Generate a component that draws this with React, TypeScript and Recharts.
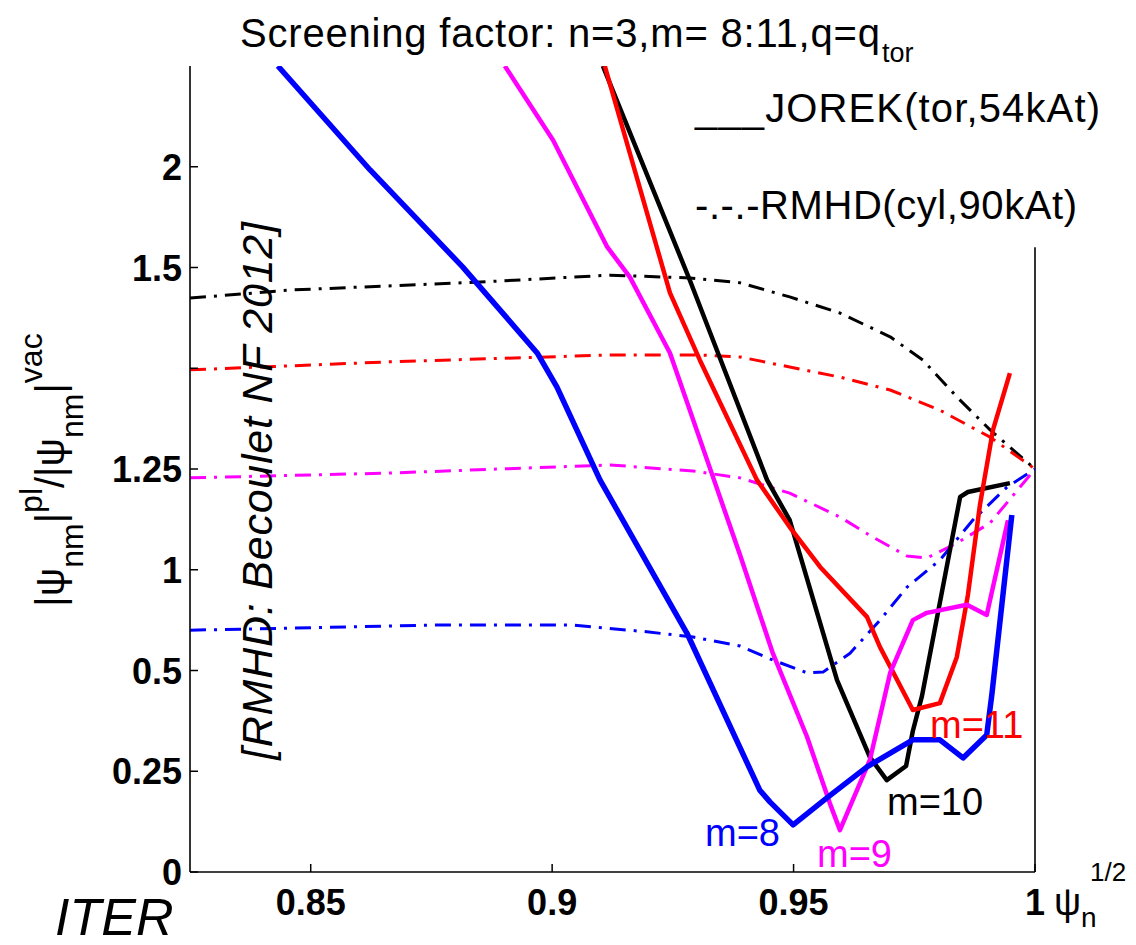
import React from "react";
import { LineChart, Line, XAxis, YAxis, ReferenceLine } from "recharts";

type Pt = [number, number];

// x = sqrt(psi_n), y = screening factor on the plot's own vertical scale
// JOREK (toroidal, 54 kAt) – solid curves
const JOREK_M8: Pt[] = [
  [0.8432, 2.0], [0.8623, 1.742], [0.8815, 1.501], [0.8969, 1.288], [0.901, 1.203],
  [0.9099, 0.973], [0.9279, 0.593], [0.943, 0.203], [0.9451, 0.174], [0.9499, 0.117],
  [0.9569, 0.184], [0.9652, 0.261], [0.9747, 0.328], [0.9803, 0.328], [0.9851, 0.283],
  [0.99, 0.34], [0.9911, 0.444], [0.9952, 0.886],
];
const JOREK_M9: Pt[] = [
  [0.8902, 2.0], [0.9002, 1.816], [0.9114, 1.551], [0.9161, 1.476], [0.9244, 1.288],
  [0.9321, 1.022], [0.9389, 0.787], [0.9457, 0.543], [0.9528, 0.335], [0.9575, 0.171],
  [0.9596, 0.104], [0.9658, 0.278], [0.97, 0.494], [0.9747, 0.625], [0.9776, 0.643],
  [0.9859, 0.663], [0.99, 0.638], [0.9944, 0.873],
];
const JOREK_M10: Pt[] = [
  [0.9105, 2.0], [0.9285, 1.469], [0.9445, 0.973], [0.9492, 0.873], [0.959, 0.476],
  [0.9658, 0.285], [0.9693, 0.228], [0.9733, 0.263], [0.9747, 0.35], [0.9766, 0.437],
  [0.9845, 0.931], [0.9861, 0.943], [0.9948, 0.965],
];
const JOREK_M11: Pt[] = [
  [0.9109, 2.0], [0.9244, 1.437], [0.9306, 1.27], [0.9424, 0.973], [0.9492, 0.856],
  [0.9555, 0.757], [0.9652, 0.633], [0.9679, 0.558], [0.9747, 0.402], [0.9803, 0.419],
  [0.9838, 0.533], [0.9861, 0.687], [0.9886, 0.911], [0.9913, 1.097], [0.9948, 1.238],
];

// RMHD (cylindrical, 90 kAt) – dash-dot curves
const RMHD_M8: Pt[] = [
  [0.825, 0.6], [0.8768, 0.613], [0.9043, 0.613], [0.9114, 0.605], [0.9196, 0.596],
  [0.9292, 0.583], [0.9389, 0.561], [0.9457, 0.526], [0.9528, 0.494], [0.9561, 0.496],
  [0.9617, 0.543], [0.9679, 0.625], [0.9735, 0.707], [0.9803, 0.774], [0.9871, 0.873],
  [0.9942, 0.955], [1.0, 1.0],
];
const RMHD_M9: Pt[] = [
  [0.825, 0.978], [0.8664, 0.99], [0.912, 1.01], [0.9292, 0.995], [0.9389, 0.978],
  [0.9492, 0.94], [0.9596, 0.881], [0.9664, 0.831], [0.9735, 0.784], [0.9776, 0.779],
  [0.9838, 0.816], [0.9907, 0.866], [1.0, 1.0],
];
const RMHD_M10: Pt[] = [
  [0.825, 1.424], [0.8457, 1.444], [0.8851, 1.464], [0.912, 1.481], [0.9285, 1.474],
  [0.9389, 1.462], [0.9492, 1.427], [0.9596, 1.387], [0.97, 1.328], [0.9768, 1.27],
  [0.9838, 1.179], [0.9907, 1.097], [1.0, 1.0],
];
const RMHD_M11: Pt[] = [
  [0.825, 1.246], [0.8664, 1.266], [0.912, 1.283], [0.9306, 1.283], [0.9389, 1.278],
  [0.9492, 1.253], [0.9596, 1.228], [0.97, 1.196], [0.9803, 1.146], [0.9907, 1.079],
  [1.0, 1.0],
];

const X_DOMAIN: [number, number] = [0.825, 1.0];
const Y_DOMAIN: [number, number] = [0, 2];
const X_TICKS = [0.85, 0.9, 0.95, 1.0];
const X_TICK_LABELS = ["0.85", "0.9", "0.95", "1"];
const TOP_TICKS = [0.85, 0.9, 0.95];
const Y_TICKS = [0, 0.25, 0.5, 0.75, 1.0, 1.25, 1.5, 1.75];
const Y_TICK_LABELS = ["0", "0.25", "0.5", "1", "1.25", "", "1.5", "2"];
const RIGHT_TICKS = [0.25, 0.5, 0.75, 1.0, 1.25, 1.5];
const RIGHT_AXIS_TOP = 1.55;

const BLUE = "#0000ff";
const MAGENTA = "#ff00ff";
const RED = "#ff0000";
const BLACK = "#000000";

const FONT = '"Liberation Sans", Arial, Helvetica, sans-serif';
const W = 1120;
const H = 929;
const DASH_DOT = "16 8 3 8";

const toRows = (pts: Pt[]) => pts.map(([x, y]) => ({ x, y }));

const SERIES = [
  { id: "rmhd-10", pts: RMHD_M10, color: BLACK, width: 3, dash: DASH_DOT },
  { id: "rmhd-11", pts: RMHD_M11, color: RED, width: 3, dash: DASH_DOT },
  { id: "rmhd-9", pts: RMHD_M9, color: MAGENTA, width: 3, dash: DASH_DOT },
  { id: "rmhd-8", pts: RMHD_M8, color: BLUE, width: 3, dash: DASH_DOT },
  { id: "jorek-10", pts: JOREK_M10, color: BLACK, width: 4.5, dash: undefined },
  { id: "jorek-11", pts: JOREK_M11, color: RED, width: 4.5, dash: undefined },
  { id: "jorek-9", pts: JOREK_M9, color: MAGENTA, width: 4.5, dash: undefined },
  { id: "jorek-8", pts: JOREK_M8, color: BLUE, width: 5.5, dash: undefined },
];

const AXIS = { stroke: "#000", strokeWidth: 1.6 };
const TICK_LEN = 8;

const BottomTick = (p: any) => {
  const i = X_TICKS.indexOf(p.payload.value);
  return (
    <g>
      <line x1={p.x} y1={p.y} x2={p.x} y2={p.y - TICK_LEN} stroke="#000" strokeWidth={1.5} />
      <text x={p.x} y={p.y + 43} textAnchor="middle" fontSize={36} fontWeight="bold" fill="#000" fontFamily={FONT}>
        {X_TICK_LABELS[i]}
      </text>
    </g>
  );
};

const TopTick = (p: any) => (
  <line x1={p.x} y1={p.y} x2={p.x} y2={p.y + TICK_LEN} stroke="#000" strokeWidth={1.5} />
);

const LeftTick = (p: any) => {
  const i = Y_TICKS.indexOf(p.payload.value);
  return (
    <g>
      <line x1={p.x} y1={p.y} x2={p.x + TICK_LEN} y2={p.y} stroke="#000" strokeWidth={1.5} />
      <text x={p.x - 8} y={p.y + 13} textAnchor="end" fontSize={36} fontWeight="bold" fill="#000" fontFamily={FONT}>
        {Y_TICK_LABELS[i]}
      </text>
    </g>
  );
};

const RightTick = (p: any) => (
  <line x1={p.x} y1={p.y} x2={p.x - TICK_LEN} y2={p.y} stroke="#000" strokeWidth={1.5} />
);

export default function App() {
  return (
    <div style={{ position: "relative", width: W, height: H, fontFamily: FONT }}>
      <LineChart width={W} height={H} margin={{ top: 58, right: 93, bottom: 5, left: 0 }}>
        <XAxis
          xAxisId="bottom"
          type="number"
          dataKey="x"
          domain={X_DOMAIN}
          ticks={X_TICKS}
          interval={0}
          height={60}
          tickSize={0}
          tickMargin={0}
          tick={(p: any) => <BottomTick {...p} />}
          axisLine={AXIS}
          allowDataOverflow
        />
        <XAxis
          xAxisId="top"
          orientation="top"
          type="number"
          dataKey="x"
          domain={X_DOMAIN}
          ticks={TOP_TICKS}
          interval={0}
          height={0}
          tickSize={0}
          tickMargin={0}
          tick={(p: any) => <TopTick {...p} />}
          axisLine={AXIS}
          allowDataOverflow
        />
        <YAxis
          yAxisId="left"
          type="number"
          domain={Y_DOMAIN}
          ticks={Y_TICKS}
          interval={0}
          width={182}
          tickSize={0}
          tickMargin={0}
          tick={(p: any) => <LeftTick {...p} />}
          axisLine={AXIS}
          allowDataOverflow
        />
        <YAxis
          yAxisId="right"
          orientation="right"
          type="number"
          domain={Y_DOMAIN}
          ticks={RIGHT_TICKS}
          interval={0}
          width={0}
          tickSize={0}
          tickMargin={0}
          tick={(p: any) => <RightTick {...p} />}
          axisLine={false}
          allowDataOverflow
        />
        <ReferenceLine
          xAxisId="bottom"
          yAxisId="left"
          segment={[{ x: X_DOMAIN[1], y: 0 }, { x: X_DOMAIN[1], y: RIGHT_AXIS_TOP }]}
          stroke="#000"
          strokeWidth={1.6}
          ifOverflow="visible"
        />
        {SERIES.map((s) => (
          <Line
            key={s.id}
            xAxisId="bottom"
            yAxisId="left"
            data={toRows(s.pts)}
            dataKey="y"
            type="linear"
            stroke={s.color}
            strokeWidth={s.width}
            strokeDasharray={s.dash}
            strokeLinejoin="round"
            dot={false}
            activeDot={false}
            isAnimationActive={false}
          />
        ))}
      </LineChart>

      <svg
        width={W}
        height={H}
        style={{ position: "absolute", left: 0, top: 0, overflow: "visible", pointerEvents: "none" }}
        fontFamily={FONT}
      >
        {/* title */}
        <text x={232} y={39} fontSize={40} textLength={640} lengthAdjust="spacing" fill="#000">
          Screening factor: n=3,m= 8:11,q=q
        </text>
        <text x={874} y={54} fontSize={27} fill="#000">tor</text>

        {/* legend */}
        <text x={687} y={114} fontSize={40} textLength={405} lengthAdjust="spacing" fill="#000">
          ___JOREK(tor,54kAt)
        </text>
        <text x={687} y={211} fontSize={40} textLength={382} lengthAdjust="spacing" fill="#000">
          -.-.-RMHD(cyl,90kAt)
        </text>

        {/* y-axis title */}
        <g transform="translate(56,462) rotate(-90)">
          <text x={0} y={0} textAnchor="middle" fontSize={40} fill="#000">
            <tspan>|ψ</tspan>
            <tspan fontSize={32} dy={19}>nm</tspan>
            <tspan dy={-19}>|</tspan>
            <tspan fontSize={32} dy={-22}>pl</tspan>
            <tspan dy={22}>/|ψ</tspan>
            <tspan fontSize={32} dy={19}>nm</tspan>
            <tspan dy={-19}>|</tspan>
            <tspan fontSize={32} dy={-22}>vac</tspan>
          </text>
        </g>

        {/* x-axis unit */}
        <text x={1046} y={907} fontSize={38} fill="#000">
          ψ<tspan fontSize={28} dy={12}>n</tspan>
        </text>
        <text x={1082} y={873} fontSize={26} fill="#000">1/2</text>

        {/* reference note */}
        <g transform="translate(264,483) rotate(-90)">
          <text x={0} y={0} textAnchor="middle" fontSize={43} fontStyle="italic" textLength={538} lengthAdjust="spacing" fill="#000">
            [RMHD: Becoulet NF 2012]
          </text>
        </g>

        <text x={47} y={927} fontSize={52} fontStyle="italic" fill="#000">ITER</text>

        {/* mode labels */}
        <text x={697} y={838} fontSize={38} fill={BLUE}>m=8</text>
        <text x={809} y={859} fontSize={38} fill={MAGENTA}>m=9</text>
        <text x={879} y={807} fontSize={38} fill={BLACK}>m=10</text>
        <text x={922} y={730} fontSize={38} fill={RED}>m=11</text>
      </svg>
    </div>
  );
}
